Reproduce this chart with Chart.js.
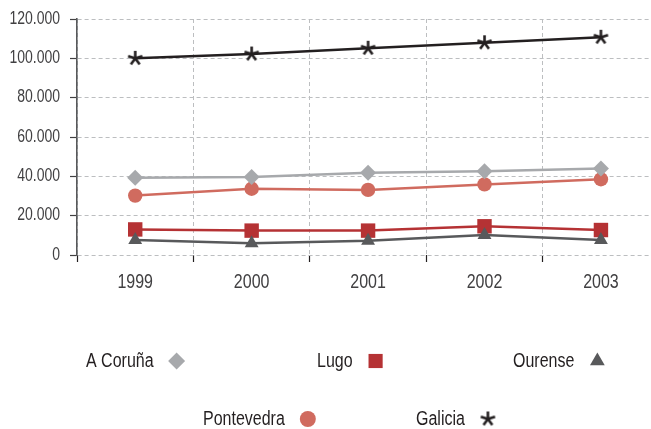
<!DOCTYPE html>
<html lang="es">
<head>
  <meta charset="UTF-8">
  <title>Galicia 1999-2003</title>
  <script src="https://cdn.jsdelivr.net/npm/chart.js"></script>
  <style>
    html, body {
      margin: 0;
      padding: 0;
      background: #fff;
      overflow: hidden;
    }
  </style>
</head>
<body>

<canvas id="chart" width="651" height="429"></canvas>

<script>
  // data
  const years = ["1999", "2000", "2001", "2002", "2003"];
  const aCoruna = [39300, 39600, 41800, 42600, 44000];
  const lugo = [13000, 12400, 12400, 14600, 12700];
  const ourense = [7600, 6000, 7300, 10200, 7600];
  const pontevedra = [30200, 33700, 33100, 35900, 38500];
  const galicia = [100000, 102200, 105100, 107900, 110700];
  const yMax = 120000;
  const yStep = 20000;

  // the plot in the original runs a little past the right edge
  const xMin = -0.5;
  const xMax = 4.43;

  // the original uses a condensed face, so text is squeezed sideways
  const FONT = "'Liberation Sans', Arial, sans-serif";
  const SQUEEZE = 0.8;
  const TEXT = "#414042";

  function squeezedText(ctx, str, x, y, size, align, color) {
    ctx.save();
    ctx.font = size + "px " + FONT;
    ctx.fillStyle = color;
    ctx.textAlign = align;
    ctx.textBaseline = "middle";
    ctx.translate(x, y);
    ctx.scale(SQUEEZE, 1);
    ctx.fillText(str, 0, 0);
    const w = ctx.measureText(str).width * SQUEEZE;
    ctx.restore();
    return w;
  }

  function fmt(v) {
    return v === 0 ? "0" : v.toLocaleString("de-DE");
  }

  // five-armed asterisk used for Galicia
  function makeAsterisk(size, color, lw) {
    const c = document.createElement("canvas");
    c.width = c.height = size;
    const g = c.getContext("2d");
    g.strokeStyle = color;
    g.lineWidth = lw;
    const r = size / 2 - 1;
    g.beginPath();
    for (let i = 0; i < 5; i++) {
      const a = -Math.PI / 2 + i * 2 * Math.PI / 5;
      g.moveTo(size / 2, size / 2);
      g.lineTo(size / 2 + r * Math.cos(a), size / 2 + r * Math.sin(a));
    }
    g.stroke();
    return c;
  }
  const starPoint = makeAsterisk(17, "#231f20", 2.6);

  function series(label, values, color, style, radius, order) {
    return {
      label: label,
      data: values.map((v, i) => ({ x: i, y: v })),
      borderColor: color,
      backgroundColor: color,
      borderWidth: 2.5,
      pointStyle: style,
      pointRadius: radius,
      pointHoverRadius: radius,
      pointBorderWidth: 0,
      pointBackgroundColor: color,
      tension: 0,
      order: order
    };
  }

  const datasets = [
    series("A Coruña", aCoruna, "#a7a9ac", "rectRot", 8, 2),
    series("Lugo", lugo, "#b53234", "rect", 10.2, 3),
    series("Ourense", ourense, "#58595b", "triangle", 8, 1),
    series("Pontevedra", pontevedra, "#d06b5f", "circle", 7.2, 4),
    series("Galicia", galicia, "#231f20", starPoint, 8, 0)
  ];

  // legend below the plot, text first and marker after it
  const legendSpots = [
    { x: 86, y: 361, r: 8.5 },
    { x: 317, y: 361, r: 10 },
    { x: 513, y: 361, r: 8.5 },
    { x: 203, y: 419, r: 8 },
    { x: 416, y: 419, r: 8 }
  ];

  const textLayer = {
    id: "textLayer",
    afterDraw(chart) {
      const ctx = chart.ctx;
      const xs = chart.scales.x;
      const ys = chart.scales.y;

      // y tick labels
      ys.ticks.forEach((t) => {
        squeezedText(ctx, fmt(t.value), ys.right - 17, ys.getPixelForValue(t.value), 17.5, "right", TEXT);
      });
      // x tick labels, one per year
      years.forEach((lab, i) => {
        squeezedText(ctx, lab, xs.getPixelForValue(i), xs.top + 27, 20, "center", TEXT);
      });
      // legend
      chart.data.datasets.forEach((ds, i) => {
        const spot = legendSpots[i];
        const w = squeezedText(ctx, ds.label, spot.x, spot.y, 20, "left", "#231f20");
        ctx.save();
        ctx.fillStyle = ds.backgroundColor;
        Chart.helpers.drawPoint(ctx, {
          pointStyle: ds.pointStyle, radius: spot.r, rotation: 0, borderWidth: 0
        }, spot.x + w + 23, spot.y);
        ctx.restore();
      });
    }
  };

  new Chart(document.getElementById("chart"), {
    type: "line",
    data: { datasets: datasets },
    options: {
      responsive: false,
      animation: false,
      layout: {
        // point size would otherwise pull the right edge in
        autoPadding: false,
        padding: { left: 10, top: 19, right: 0, bottom: 136 }
      },
      plugins: {
        legend: { display: false },
        tooltip: { enabled: false }
      },
      scales: {
        x: {
          type: "linear",
          min: xMin,
          max: xMax,
          afterBuildTicks(scale) {
            // grid lines sit between the years
            scale.ticks = years.map((y, i) => ({ value: i - 0.5 }));
          },
          grid: {
            color: "#bcbec0",
            lineWidth: 1,
            tickColor: "#231f20",
            tickLength: 7,
            tickWidth: 1.2
          },
          border: { display: false, dash: [4, 3] },
          ticks: { display: false },
          afterFit(scale) { scale.height = 38; }
        },
        y: {
          min: 0,
          max: yMax,
          grid: {
            color: "#bcbec0",
            lineWidth: 1,
            tickColor: "#414042",
            tickLength: 7,
            tickWidth: 1.2
          },
          border: { display: true, color: "#58595b", width: 1.6, dash: [4, 3] },
          ticks: { display: false, stepSize: yStep },
          afterFit(scale) { scale.width = 67; }
        }
      }
    },
    plugins: [textLayer]
  });
</script>

</body>
</html>
